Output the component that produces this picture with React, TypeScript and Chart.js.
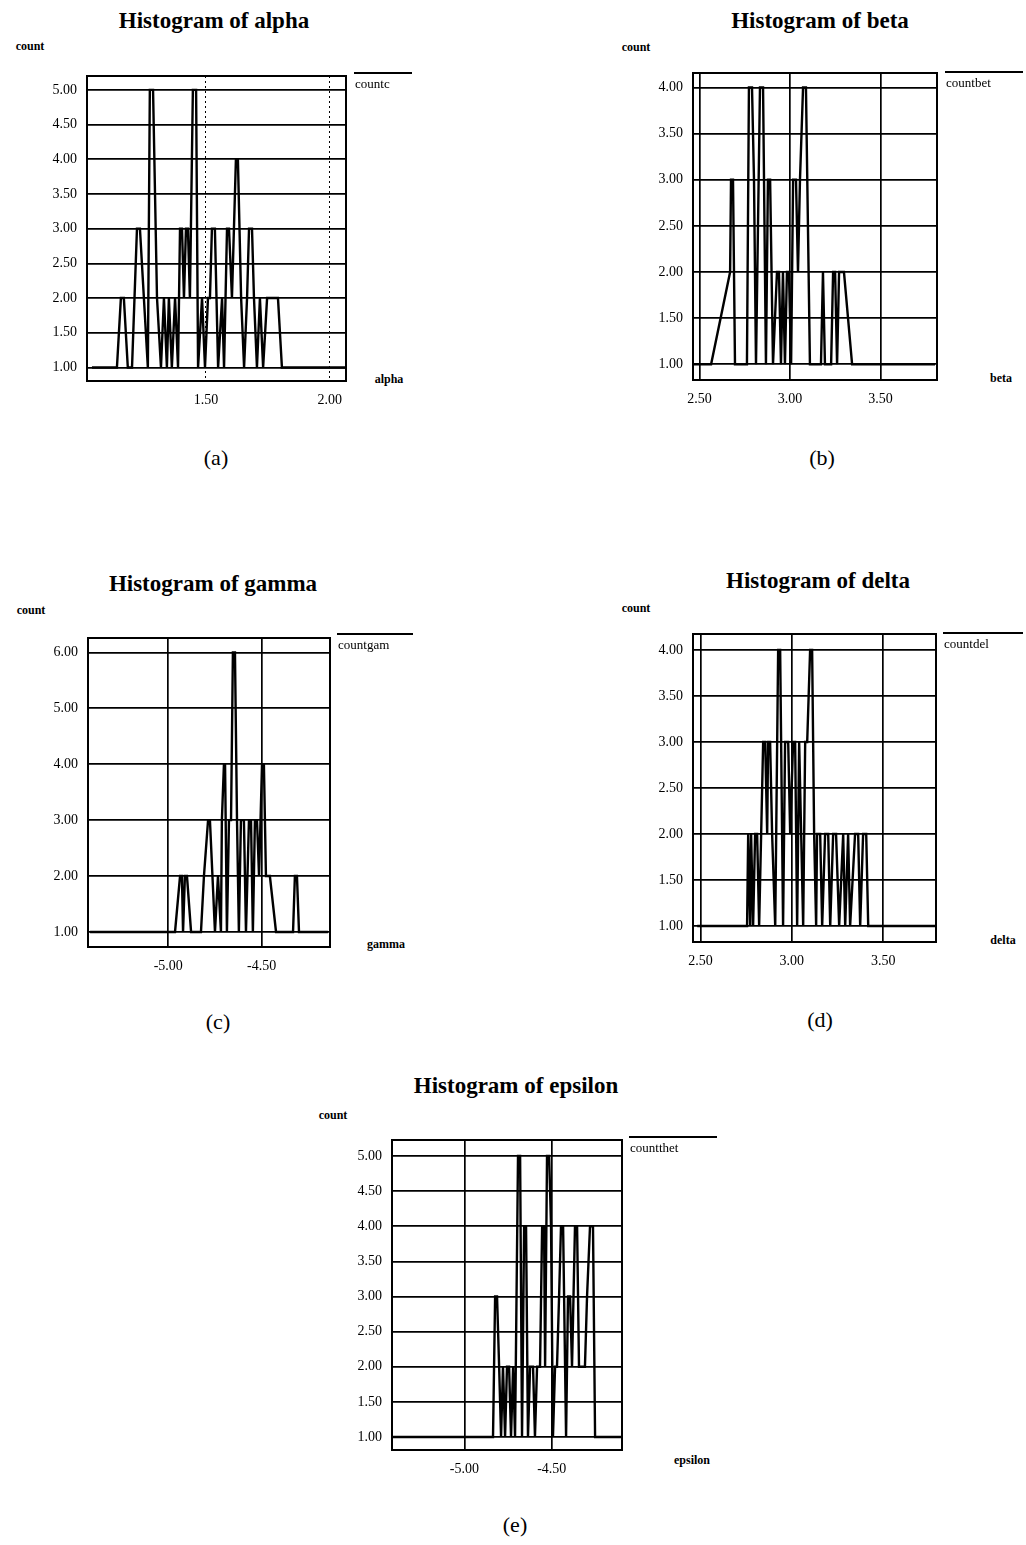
import React, { useEffect, useRef } from "react";
import { Chart, registerables } from "chart.js";
Chart.register(...registerables);

// ---------- data (x value, count) ----------
const alphaX = [1.039, 1.140, 1.156, 1.168, 1.184, 1.201, 1.221, 1.233, 1.265, 1.273, 1.286, 1.302, 1.318, 1.330, 1.342, 1.350, 1.362, 1.375, 1.387, 1.395, 1.403, 1.411, 1.419, 1.427, 1.435, 1.447, 1.460, 1.468, 1.484, 1.496, 1.508, 1.516, 1.524, 1.536, 1.549, 1.565, 1.573, 1.585, 1.593, 1.605, 1.621, 1.629, 1.642, 1.654, 1.666, 1.674, 1.686, 1.694, 1.706, 1.718, 1.731, 1.747, 1.791, 1.807, 2.062];
const alphaCount = [1, 1, 2, 2, 1, 1, 3, 3, 1, 5, 5, 2, 1, 2, 1, 2, 1, 2, 1, 3, 3, 2, 3, 3, 2, 5, 5, 1, 2, 1, 2, 2, 3, 3, 1, 2, 1, 3, 3, 2, 4, 4, 2, 1, 2, 3, 3, 2, 1, 2, 1, 2, 2, 1, 1];

const betaX = [2.464, 2.564, 2.669, 2.674, 2.685, 2.696, 2.762, 2.773, 2.790, 2.801, 2.812, 2.834, 2.851, 2.867, 2.878, 2.890, 2.906, 2.928, 2.939, 2.950, 2.961, 2.972, 2.983, 2.994, 3.006, 3.017, 3.033, 3.044, 3.055, 3.072, 3.088, 3.110, 3.171, 3.182, 3.193, 3.227, 3.238, 3.249, 3.260, 3.271, 3.298, 3.343, 3.801];
const betaCount = [1, 1, 2, 3, 3, 1, 1, 4, 4, 3, 1, 4, 4, 1, 3, 3, 1, 2, 2, 1, 2, 1, 2, 2, 1, 3, 3, 2, 3, 4, 4, 1, 1, 2, 1, 1, 2, 2, 1, 2, 2, 1, 1];

const gammaX = [-5.419, -4.964, -4.937, -4.927, -4.921, -4.911, -4.900, -4.878, -4.825, -4.809, -4.787, -4.777, -4.750, -4.734, -4.718, -4.713, -4.702, -4.696, -4.686, -4.675, -4.664, -4.654, -4.643, -4.632, -4.622, -4.611, -4.595, -4.584, -4.568, -4.557, -4.547, -4.536, -4.525, -4.514, -4.498, -4.488, -4.477, -4.456, -4.423, -4.332, -4.322, -4.311, -4.300, -4.145];
const gammaCount = [1, 1, 2, 2, 1, 2, 2, 1, 1, 2, 3, 3, 1, 2, 1, 3, 4, 4, 1, 3, 3, 6, 6, 3, 1, 3, 3, 1, 3, 3, 1, 3, 3, 2, 4, 4, 2, 2, 1, 1, 2, 2, 1, 1];

const deltaX = [2.482, 2.755, 2.761, 2.772, 2.777, 2.788, 2.799, 2.810, 2.821, 2.843, 2.854, 2.865, 2.870, 2.881, 2.892, 2.909, 2.925, 2.936, 2.952, 2.963, 2.980, 2.991, 3.007, 3.018, 3.029, 3.040, 3.051, 3.062, 3.073, 3.084, 3.100, 3.111, 3.122, 3.133, 3.138, 3.155, 3.166, 3.182, 3.199, 3.210, 3.226, 3.242, 3.259, 3.281, 3.292, 3.308, 3.319, 3.346, 3.363, 3.374, 3.390, 3.407, 3.418, 3.784];
const deltaCount = [1, 1, 2, 1, 2, 1, 2, 2, 1, 3, 3, 2, 3, 3, 2, 1, 4, 4, 1, 3, 3, 2, 3, 3, 1, 3, 2, 1, 3, 3, 4, 4, 2, 1, 2, 2, 1, 2, 2, 1, 2, 2, 1, 2, 1, 2, 1, 2, 2, 1, 2, 2, 1, 1];

const epsilonX = [-5.408, -4.836, -4.824, -4.813, -4.801, -4.790, -4.779, -4.767, -4.756, -4.744, -4.733, -4.721, -4.710, -4.693, -4.681, -4.670, -4.658, -4.647, -4.636, -4.624, -4.607, -4.596, -4.584, -4.567, -4.555, -4.544, -4.538, -4.527, -4.515, -4.504, -4.493, -4.481, -4.470, -4.458, -4.447, -4.435, -4.418, -4.407, -4.395, -4.384, -4.367, -4.355, -4.344, -4.332, -4.310, -4.298, -4.281, -4.264, -4.252, -4.104];
const epsilonCount = [1, 1, 3, 3, 2, 1, 2, 1, 2, 2, 1, 2, 1, 5, 5, 1, 4, 4, 1, 2, 2, 1, 2, 2, 4, 4, 2, 5, 5, 4, 1, 2, 2, 3, 4, 4, 1, 3, 3, 2, 4, 4, 2, 2, 2, 3, 4, 4, 1, 1];

// ---------- axis ticks and ranges ----------
const alphaXTicks = [1.5, 2.0];
const alphaYTicks = [1, 1.5, 2, 2.5, 3, 3.5, 4, 4.5, 5];
const betaXTicks = [2.5, 3.0, 3.5];
const betaYTicks = [1, 1.5, 2, 2.5, 3, 3.5, 4];
const gammaXTicks = [-5.0, -4.5];
const gammaYTicks = [1, 2, 3, 4, 5, 6];
const deltaXTicks = [2.5, 3.0, 3.5];
const deltaYTicks = [1, 1.5, 2, 2.5, 3, 3.5, 4];
const epsilonXTicks = [-5.0, -4.5];
const epsilonYTicks = [1, 1.5, 2, 2.5, 3, 3.5, 4, 4.5, 5];

const alphaRange = { x: [1.019, 2.066], y: [0.805, 5.2] };
const betaRange = { x: [2.464, 3.812], y: [0.83, 4.157] };
const gammaRange = { x: [-5.43, -4.134], y: [0.731, 6.258] };
const deltaRange = { x: [2.459, 3.789], y: [0.826, 4.174] };
const epsilonRange = { x: [-5.414, -4.098], y: [0.815, 5.228] };

const PAD = 20;
const YW = 50;
const XH = 32;
const SERIF = "'Liberation Serif', 'DejaVu Serif', serif";

const framePlugin = {
  id: "frame",
  afterDatasetsDraw(chart: any) {
    const { ctx, chartArea: a } = chart;
    ctx.save();
    ctx.strokeStyle = "#000";
    ctx.lineWidth = 2;
    ctx.strokeRect(a.left, a.top, a.right - a.left, a.bottom - a.top);
    ctx.restore();
  },
};

type PanelProps = {
  box: [number, number, number, number];
  range: { x: number[]; y: number[] };
  xTicks: number[];
  yTicks: number[];
  xs: number[];
  ys: number[];
  dashX?: boolean;
};

function Panel({ box, range, xTicks, yTicks, xs, ys, dashX }: PanelProps) {
  const ref = useRef<HTMLCanvasElement>(null);
  const [l, t, w, h] = box;
  const cw = PAD + YW + w + PAD;
  const ch = PAD + h + XH + PAD;
  useEffect(() => {
    const chart = new Chart(ref.current as HTMLCanvasElement, {
      type: "line",
      data: {
        datasets: [
          {
            data: xs.map((x, i) => ({ x, y: ys[i] })),
            borderColor: "#000",
            borderWidth: 2.4,
            pointRadius: 0,
            fill: false,
            tension: 0,
          },
        ],
      },
      options: {
        animation: false,
        responsive: false,
        maintainAspectRatio: false,
        layout: { padding: PAD },
        plugins: { legend: { display: false }, tooltip: { enabled: false } },
        scales: {
          x: {
            type: "linear",
            min: range.x[0],
            max: range.x[1],
            afterBuildTicks: (s: any) => {
              s.ticks = xTicks.map((v) => ({ value: v }));
            },
            afterFit: (s: any) => {
              s.height = XH;
            },
            ticks: {
              callback: (v: any) => Number(v).toFixed(2),
              color: "#000",
              font: { family: SERIF, size: 14 },
              padding: 11,
              maxRotation: 0,
              autoSkip: false,
            },
            grid: { color: "#000", lineWidth: dashX ? 1 : 1.7, drawTicks: false },
            border: { display: false, dash: dashX ? [2, 3] : [] },
          },
          y: {
            type: "linear",
            min: range.y[0],
            max: range.y[1],
            afterBuildTicks: (s: any) => {
              s.ticks = yTicks.map((v) => ({ value: v }));
            },
            afterFit: (s: any) => {
              s.width = YW;
            },
            ticks: {
              callback: (v: any) => Number(v).toFixed(2),
              color: "#000",
              font: { family: SERIF, size: 14 },
              padding: 10,
              autoSkip: false,
            },
            grid: { color: "#000", lineWidth: 1.7, drawTicks: false },
            border: { display: false },
          },
        },
      } as any,
      plugins: [framePlugin],
    });
    return () => chart.destroy();
  }, []);
  return (
    <canvas
      ref={ref}
      width={cw}
      height={ch}
      style={{ position: "absolute", left: l - PAD - YW, top: t - PAD, width: cw, height: ch }}
    />
  );
}

function Txt({ x, y, size, bold, children }: any) {
  return (
    <div
      style={{
        position: "absolute",
        left: x,
        top: y,
        transform: "translate(-50%, -50%)",
        whiteSpace: "nowrap",
        fontFamily: SERIF,
        fontSize: size,
        fontWeight: bold ? "bold" : "normal",
        color: "#000",
        lineHeight: 1,
      }}
    >
      {children}
    </div>
  );
}

function Legend({ x, y, w, label }: any) {
  return (
    <div style={{ position: "absolute", left: x, top: y, width: w, borderTop: "2px solid #000" }}>
      <div style={{ fontFamily: SERIF, fontSize: 13, lineHeight: 1, marginTop: 3, marginLeft: 1 }}>{label}</div>
    </div>
  );
}

export default function App() {
  return (
    <div style={{ position: "absolute", left: 0, top: 0, width: 1026, height: 1545, background: "#fff" }}>
      {/* (a) */}
      <Txt x={214} y={20} size={23} bold>Histogram of alpha</Txt>
      <Txt x={30} y={46} size={12} bold>count</Txt>
      <Panel box={[87, 76, 259, 305]} range={alphaRange} xTicks={alphaXTicks} yTicks={alphaYTicks} xs={alphaX} ys={alphaCount} dashX />
      <Legend x={354} y={72} w={58} label="countc" />
      <Txt x={389} y={379} size={12} bold>alpha</Txt>
      <Txt x={216} y={458} size={22}>(a)</Txt>

      {/* (b) */}
      <Txt x={820} y={20} size={23} bold>Histogram of beta</Txt>
      <Txt x={636} y={47} size={12} bold>count</Txt>
      <Panel box={[693, 73, 244, 307]} range={betaRange} xTicks={betaXTicks} yTicks={betaYTicks} xs={betaX} ys={betaCount} />
      <Legend x={945} y={71} w={78} label="countbet" />
      <Txt x={1001} y={378} size={12} bold>beta</Txt>
      <Txt x={822} y={458} size={22}>(b)</Txt>

      {/* (c) */}
      <Txt x={213} y={583} size={23} bold>Histogram of gamma</Txt>
      <Txt x={31} y={610} size={12} bold>count</Txt>
      <Panel box={[88, 638, 242, 309]} range={gammaRange} xTicks={gammaXTicks} yTicks={gammaYTicks} xs={gammaX} ys={gammaCount} />
      <Legend x={337} y={633} w={76} label="countgam" />
      <Txt x={386} y={944} size={12} bold>gamma</Txt>
      <Txt x={218} y={1022} size={22}>(c)</Txt>

      {/* (d) */}
      <Txt x={818} y={580} size={23} bold>Histogram of delta</Txt>
      <Txt x={636} y={608} size={12} bold>count</Txt>
      <Panel box={[693, 634, 243, 308]} range={deltaRange} xTicks={deltaXTicks} yTicks={deltaYTicks} xs={deltaX} ys={deltaCount} />
      <Legend x={943} y={632} w={80} label="countdel" />
      <Txt x={1003} y={940} size={12} bold>delta</Txt>
      <Txt x={820} y={1020} size={22}>(d)</Txt>

      {/* (e) */}
      <Txt x={516} y={1085} size={23} bold>Histogram of epsilon</Txt>
      <Txt x={333} y={1115} size={12} bold>count</Txt>
      <Panel box={[392, 1140, 230, 310]} range={epsilonRange} xTicks={epsilonXTicks} yTicks={epsilonYTicks} xs={epsilonX} ys={epsilonCount} />
      <Legend x={629} y={1136} w={88} label="countthet" />
      <Txt x={692} y={1460} size={12} bold>epsilon</Txt>
      <Txt x={515} y={1525} size={22}>(e)</Txt>
    </div>
  );
}
